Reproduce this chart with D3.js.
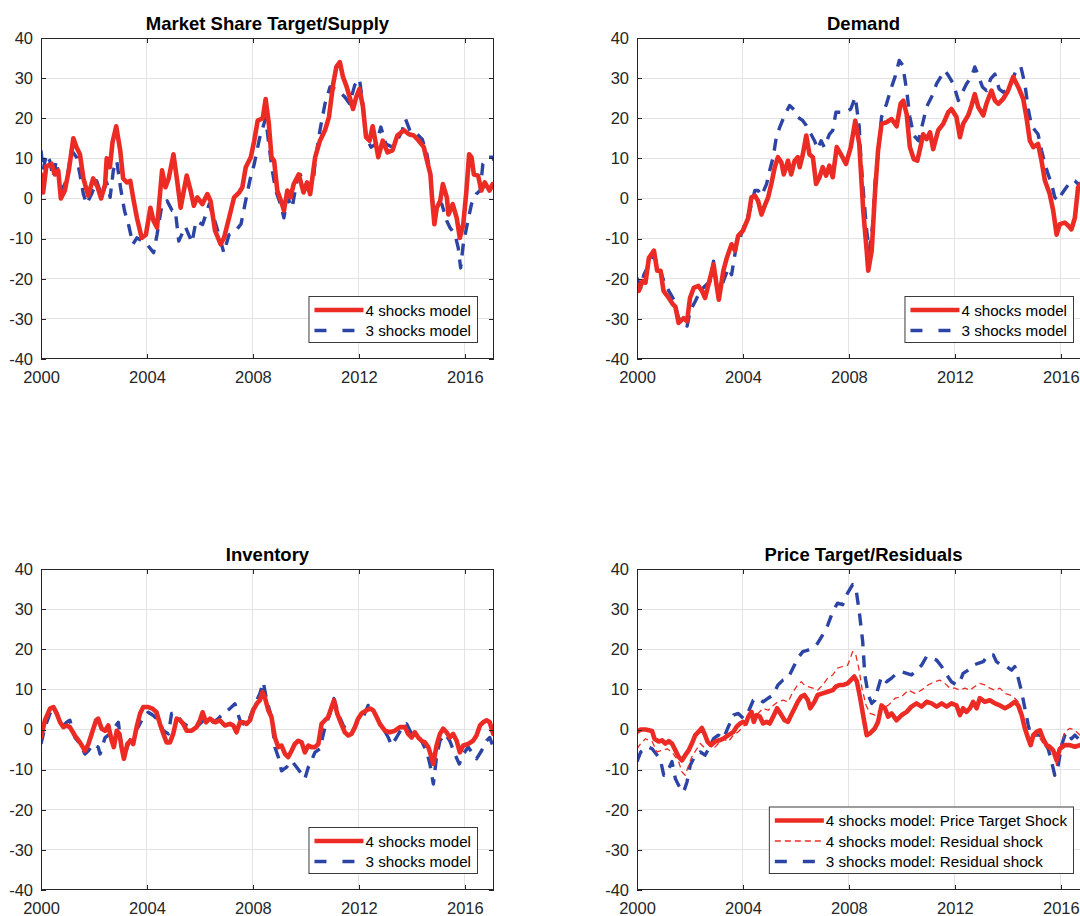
<!DOCTYPE html>
<html>
<head>
<meta charset="utf-8">
<script src="https://cdn.jsdelivr.net/npm/d3@7"></script>
<style>
  html, body { margin: 0; padding: 0; background: #fff; overflow: hidden; }
  svg { display: block; font-family: "Liberation Sans", Arial, Helvetica, sans-serif; }
</style>
</head>
<body>
<svg id="chart" width="1080" height="916"></svg>
<script>
// ---------------- DATA (year, value) ----------------
const xTickValues = [2000, 2004, 2008, 2012, 2016];
const yTickValues = [-40, -30, -20, -10, 0, 10, 20, 30, 40];

const panelTitles = ["Market Share Target/Supply", "Demand", "Inventory", "Price Target/Residuals"];
const legendTwo = ["4 shocks model", "3 shocks model"];
const legendThree = ["4 shocks model: Price Target Shock", "4 shocks model: Residual shock", "3 shocks model: Residual shock"];

const supply4 = [[2000.0,6],[2000.08,1.5],[2000.2,8],[2000.4,8.6],[2000.52,6],[2000.65,7],[2000.75,0],[2000.9,2],[2001.05,7],[2001.22,15],[2001.34,12.8],[2001.47,11],[2001.6,5],[2001.78,0.7],[2001.97,5],[2002.14,2.8],[2002.27,0],[2002.42,3.6],[2002.48,10],[2002.6,7.8],[2002.7,14],[2002.84,18],[2002.99,12],[2003.1,5],[2003.24,4],[2003.37,4.4],[2003.5,-0.6],[2003.62,-4.8],[2003.8,-9.8],[2003.96,-9],[2004.13,-2.3],[2004.25,-5.6],[2004.38,-7.3],[2004.57,7],[2004.7,2.8],[2004.82,5],[2005.0,11],[2005.14,4.4],[2005.27,-2.3],[2005.5,5.7],[2005.65,1.9],[2005.77,-1.8],[2005.9,0.3],[2006.09,-1.4],[2006.28,1.1],[2006.4,-0.6],[2006.57,-8],[2006.78,-11.4],[2006.91,-9.8],[2007.1,-4.8],[2007.29,0.3],[2007.48,1.5],[2007.6,2.8],[2007.73,7.8],[2007.92,10.3],[2008.05,14.4],[2008.18,19.4],[2008.37,20],[2008.48,24.8],[2008.6,18.6],[2008.7,10.3],[2008.8,9.4],[2008.92,2],[2009.1,-1.4],[2009.17,-3],[2009.3,2],[2009.42,0.3],[2009.54,3.6],[2009.73,6],[2009.91,1.5],[2010.04,4],[2010.16,1.1],[2010.35,10.3],[2010.53,14.4],[2010.72,17],[2010.87,20.3],[2011.03,28.6],[2011.15,32.8],[2011.28,34],[2011.4,30.3],[2011.53,28],[2011.65,25.3],[2011.78,22.3],[2011.9,25.3],[2012.02,27.3],[2012.15,23],[2012.27,15.3],[2012.4,14.4],[2012.52,18],[2012.61,14.8],[2012.73,10.3],[2012.9,14.4],[2013.08,11.5],[2013.27,12],[2013.45,15.7],[2013.7,17],[2013.89,16],[2014.07,15.7],[2014.26,14.4],[2014.45,12.8],[2014.57,9.4],[2014.7,6],[2014.76,0.3],[2014.85,-6.4],[2014.94,-2.3],[2015.07,-0.6],[2015.17,3.6],[2015.32,0.3],[2015.38,-4],[2015.54,-1.4],[2015.69,-4.8],[2015.81,-9.8],[2015.94,-6.4],[2016.06,2],[2016.16,11],[2016.25,10.3],[2016.34,6],[2016.5,5.7],[2016.62,2],[2016.75,4],[2016.93,2],[2017.05,3.6],[2017.1,2.8]];

const supply3 = [[2000.0,12],[2000.08,7],[2000.2,11],[2000.33,9.4],[2000.45,5.3],[2000.58,9.4],[2000.67,5.3],[2000.77,2],[2000.9,3.6],[2001.03,7],[2001.15,12],[2001.34,10.3],[2001.47,6],[2001.6,1.1],[2001.72,-1.4],[2001.91,1.1],[2002.1,4.4],[2002.29,0.7],[2002.48,4],[2002.61,0.3],[2002.73,7],[2002.86,9.4],[2003.0,2.8],[2003.15,-3],[2003.3,-6.4],[2003.47,-11.4],[2003.62,-9.8],[2003.81,-10.6],[2004.0,-11.4],[2004.25,-13.5],[2004.38,-9],[2004.57,-1.4],[2004.76,-0.6],[2004.95,-3],[2005.07,-3],[2005.2,-10.6],[2005.45,-7],[2005.7,-11],[2005.85,-5.6],[2006.1,-6.5],[2006.35,-1.4],[2006.6,-6.4],[2006.8,-11],[2006.9,-13.5],[2007.1,-9],[2007.35,-8],[2007.55,-6.4],[2007.7,-1.4],[2007.9,5],[2008.05,8.6],[2008.25,15],[2008.48,20],[2008.6,13.6],[2008.73,7],[2008.86,2],[2009.04,-1.4],[2009.17,-4.8],[2009.3,0.3],[2009.48,-2.3],[2009.66,4.4],[2009.79,6],[2009.95,2.3],[2010.1,3.6],[2010.29,5],[2010.35,9.4],[2010.53,17],[2010.72,23.6],[2010.91,27.8],[2011.1,27.3],[2011.28,26.5],[2011.47,25.3],[2011.65,23.6],[2011.84,28.2],[2012.02,29.8],[2012.15,23.6],[2012.27,15.3],[2012.46,12.8],[2012.65,13.6],[2012.83,17.8],[2013.02,13.6],[2013.27,12.8],[2013.45,14.4],[2013.64,17],[2013.76,19.8],[2013.95,16.5],[2014.2,16],[2014.39,14.8],[2014.57,11],[2014.7,6],[2014.8,-2.3],[2014.94,-1],[2015.13,-1.4],[2015.32,-5.6],[2015.44,-7.3],[2015.63,-9],[2015.75,-12.3],[2015.84,-17.3],[2015.94,-11.4],[2016.09,-6.4],[2016.25,-1.4],[2016.43,1.1],[2016.58,2],[2016.68,8.6],[2016.87,10.3],[2017.05,10.3],[2017.1,9.5]];

const demand4 = [[2000.0,-21.4],[2000.07,-23],[2000.2,-20.6],[2000.32,-21],[2000.45,-14.8],[2000.64,-13],[2000.76,-18],[2000.89,-18],[2001.0,-23],[2001.2,-24.8],[2001.36,-26.4],[2001.45,-27],[2001.57,-31],[2001.76,-29.8],[2001.89,-30.6],[2002.0,-24.8],[2002.14,-22.3],[2002.32,-21.8],[2002.45,-23],[2002.57,-24.8],[2002.7,-21.4],[2002.89,-16.4],[2003.0,-21.4],[2003.09,-25.2],[2003.26,-18],[2003.39,-14.8],[2003.57,-11.4],[2003.7,-13],[2003.82,-9.3],[2004.0,-8],[2004.2,-4.8],[2004.32,0.3],[2004.45,0.7],[2004.57,-0.6],[2004.7,-4],[2004.82,-1.8],[2004.95,0.3],[2005.07,3.6],[2005.2,7.8],[2005.32,10.3],[2005.45,9],[2005.54,6],[2005.7,9.4],[2005.82,6],[2005.95,9.4],[2006.07,10.3],[2006.14,7.8],[2006.26,11],[2006.39,15.7],[2006.51,11],[2006.64,10.3],[2006.76,3.6],[2006.89,5.3],[2007.01,7.8],[2007.14,5.7],[2007.26,8.2],[2007.39,5.3],[2007.54,12.8],[2007.7,11],[2007.89,8.6],[2008.07,12.8],[2008.24,19.4],[2008.39,13.6],[2008.54,-3],[2008.67,-13],[2008.73,-18],[2008.86,-13],[2008.98,1],[2009.1,12],[2009.23,18.6],[2009.42,19],[2009.61,19.8],[2009.8,18],[2009.95,23.6],[2010.05,24.4],[2010.18,21],[2010.3,12.8],[2010.45,9.8],[2010.58,9.4],[2010.7,12.8],[2010.8,16],[2010.93,14.8],[2011.06,16.5],[2011.18,12.3],[2011.37,17],[2011.56,18.6],[2011.75,21.5],[2011.87,22.3],[2012.06,20.3],[2012.19,15.3],[2012.31,18.6],[2012.5,20.7],[2012.63,23.2],[2012.75,26],[2012.88,22.8],[2013.07,20.7],[2013.19,23.6],[2013.38,26.9],[2013.51,24.4],[2013.64,23.6],[2013.82,24.8],[2014.01,26.9],[2014.2,30.3],[2014.39,27.8],[2014.58,24.8],[2014.7,20.3],[2014.83,14.4],[2014.96,12.8],[2015.14,13.6],[2015.27,9.4],[2015.4,4.4],[2015.58,1.1],[2015.71,-3],[2015.84,-9],[2015.96,-6.4],[2016.15,-6],[2016.28,-6.8],[2016.4,-7.7],[2016.53,-4.8],[2016.65,2.8],[2016.8,4],[2017.0,3],[2017.1,4]];

const demand3 = [[2000.0,-19.8],[2000.14,-22.3],[2000.26,-19],[2000.45,-16.4],[2000.64,-14],[2000.76,-16.4],[2000.89,-18],[2001.01,-20.6],[2001.2,-23],[2001.39,-25.2],[2001.57,-29.8],[2001.76,-30.6],[2001.89,-31.8],[2002.01,-28],[2002.2,-25.6],[2002.39,-23],[2002.57,-21.8],[2002.76,-20.6],[2002.89,-15.6],[2003.07,-24.8],[2003.26,-20.6],[2003.45,-17.3],[2003.57,-19],[2003.76,-11.4],[2003.89,-9.8],[2004.07,-6.4],[2004.26,-3],[2004.45,2],[2004.57,2],[2004.7,0.7],[2004.89,3.6],[2005.01,7],[2005.14,10.3],[2005.26,15.3],[2005.39,17.8],[2005.57,20.7],[2005.76,23.2],[2005.95,22],[2006.07,20.3],[2006.26,19.4],[2006.39,18.2],[2006.57,16],[2006.7,14.4],[2006.82,12.3],[2006.95,14.4],[2007.07,12.8],[2007.26,16],[2007.39,17],[2007.51,21.5],[2007.7,21.5],[2007.89,21.5],[2008.07,22.3],[2008.24,25.3],[2008.39,17.8],[2008.45,10],[2008.54,2],[2008.67,-8],[2008.77,-13],[2008.9,-6.4],[2008.98,3.6],[2009.1,11],[2009.23,20.3],[2009.42,23.6],[2009.61,27.8],[2009.74,30.3],[2009.9,34.4],[2010.03,33.2],[2010.18,26.9],[2010.3,20.3],[2010.45,15.7],[2010.62,14.4],[2010.78,18.6],[2010.93,22.8],[2011.12,25.3],[2011.31,28.6],[2011.5,30.7],[2011.62,31.9],[2011.75,30.7],[2011.94,28.6],[2012.13,24.4],[2012.25,26],[2012.44,28.6],[2012.63,30.3],[2012.75,32.8],[2012.88,30.7],[2013.04,27.8],[2013.19,26.9],[2013.35,29.8],[2013.51,31],[2013.67,27.3],[2013.82,26.5],[2013.95,26.9],[2014.14,29],[2014.33,32.3],[2014.49,32.8],[2014.64,28.6],[2014.77,22.3],[2014.89,18.2],[2015.02,17],[2015.14,16],[2015.27,12],[2015.4,8.6],[2015.52,6],[2015.65,3.6],[2015.77,0.3],[2015.9,-0.6],[2016.03,1.1],[2016.21,2.8],[2016.4,4.4],[2016.53,4.4],[2016.65,3.6],[2016.85,4],[2017.1,4]];

const inventory4 = [[2000.0,-2],[2000.15,2.3],[2000.34,5.2],[2000.47,5.6],[2000.59,4],[2000.72,1.8],[2000.84,0.6],[2000.97,1],[2001.09,0.6],[2001.28,-1.5],[2001.47,-3.2],[2001.66,-5.3],[2001.79,-3.6],[2001.95,-0.3],[2002.08,2.3],[2002.16,2.7],[2002.29,0.2],[2002.42,-0.3],[2002.54,1],[2002.67,-2.8],[2002.75,-4.4],[2002.86,-0.3],[2002.96,-1.1],[2003.04,-4.4],[2003.13,-7.3],[2003.26,-3.6],[2003.38,-2.8],[2003.48,-3.6],[2003.61,0.6],[2003.74,4],[2003.86,5.6],[2004.05,5.6],[2004.21,5.2],[2004.36,4.3],[2004.49,1.4],[2004.62,-1.1],[2004.74,-3.2],[2004.87,-3.2],[2004.99,-1.1],[2005.12,2.7],[2005.25,2.3],[2005.37,1.4],[2005.5,-0.3],[2005.69,-0.3],[2005.87,0.6],[2006.0,2.3],[2006.1,4.3],[2006.23,1.8],[2006.38,2.7],[2006.57,1.8],[2006.75,2.3],[2006.94,1],[2007.13,1.4],[2007.26,1],[2007.38,-0.7],[2007.51,1.8],[2007.64,1.8],[2007.76,1.4],[2007.89,2.3],[2008.01,4.8],[2008.14,6.4],[2008.26,7.3],[2008.36,9.3],[2008.45,8],[2008.58,4.8],[2008.7,3.1],[2008.83,-2],[2008.96,-4.4],[2009.08,-4],[2009.21,-6.1],[2009.33,-6.9],[2009.46,-5.3],[2009.58,-3.6],[2009.71,-2.8],[2009.84,-3.2],[2009.96,-5.7],[2010.09,-4],[2010.21,-4.4],[2010.34,-4.4],[2010.47,-3.6],[2010.59,1.4],[2010.72,2.3],[2010.84,3.1],[2010.97,5.6],[2011.06,7.3],[2011.18,4],[2011.31,1.8],[2011.47,-0.7],[2011.6,-1.5],[2011.72,-1.1],[2011.85,0.6],[2011.97,2.7],[2012.1,4],[2012.29,4.8],[2012.42,5.2],[2012.54,4.8],[2012.67,3.1],[2012.79,1.4],[2012.98,-0.3],[2013.17,-0.7],[2013.36,-0.3],[2013.55,0.6],[2013.74,0.6],[2013.86,-1.1],[2013.99,-2],[2014.11,-0.7],[2014.24,-2],[2014.36,-2.8],[2014.49,-3.2],[2014.62,-4.4],[2014.74,-6.9],[2014.81,-8.6],[2014.93,-4],[2015.06,-1.1],[2015.18,0.2],[2015.31,-0.7],[2015.43,-2],[2015.56,-1.1],[2015.69,-2.8],[2015.81,-5.7],[2015.94,-4],[2016.13,-3.6],[2016.31,-2.8],[2016.44,-1.5],[2016.57,1],[2016.69,1.8],[2016.82,2.3],[2016.94,1.8],[2017.07,-1.1]];

const inventory3 = [[2000.0,-3.6],[2000.15,0.6],[2000.34,4],[2000.47,5.6],[2000.59,4.3],[2000.78,0.6],[2000.97,1.8],[2001.09,2.3],[2001.28,-2],[2001.47,-3.6],[2001.66,-6.1],[2001.79,-5.3],[2001.97,-3.6],[2002.16,-4.4],[2002.23,-6.1],[2002.42,-2],[2002.6,-1.1],[2002.79,0.6],[2002.92,1.8],[2003.04,-4.4],[2003.17,-6.1],[2003.3,-3.6],[2003.48,-1.1],[2003.67,0.6],[2003.86,3.1],[2004.05,4.3],[2004.24,3.5],[2004.43,2.3],[2004.62,-0.3],[2004.81,-1.1],[2004.93,4],[2005.12,4],[2005.31,1.8],[2005.5,1],[2005.69,0.6],[2005.87,0.6],[2006.06,1.8],[2006.25,3.1],[2006.5,1.8],[2006.69,2.7],[2006.88,4],[2007.13,5.2],[2007.32,6.4],[2007.51,2.3],[2007.7,1],[2007.89,3.1],[2008.08,6.4],[2008.26,8.9],[2008.39,11.8],[2008.52,7.3],[2008.7,3.1],[2008.83,-4.4],[2008.96,-6.9],[2009.08,-10.3],[2009.27,-9.4],[2009.46,-7.8],[2009.65,-9.4],[2009.84,-11.1],[2009.96,-12.3],[2010.09,-9.4],[2010.21,-7.8],[2010.34,-5.7],[2010.53,-4.8],[2010.72,0.6],[2010.91,4],[2011.06,7.7],[2011.22,4],[2011.41,1],[2011.6,-0.7],[2011.79,-0.3],[2011.97,2.3],[2012.16,3.1],[2012.35,6],[2012.54,4.8],[2012.73,2.3],[2012.92,0.2],[2013.11,-2],[2013.23,-4],[2013.42,-2],[2013.61,0.2],[2013.8,1.4],[2013.99,-1.1],[2014.18,-1.1],[2014.36,-2.8],[2014.55,-5.3],[2014.68,-8.6],[2014.81,-13.6],[2014.93,-6.9],[2015.06,-2.8],[2015.25,-1.1],[2015.43,-2.8],[2015.62,-6.1],[2015.79,-8.6],[2015.94,-6.1],[2016.13,-4.4],[2016.31,-6.1],[2016.44,-7.3],[2016.63,-5.3],[2016.82,-2.8],[2016.94,-2],[2017.07,-4.4]];

const priceTarget4 = [[2000.0,-0.6],[2000.14,0],[2000.32,0],[2000.57,-0.4],[2000.66,-2.3],[2000.82,-3],[2000.95,-2.7],[2001.07,-3.5],[2001.2,-2.9],[2001.32,-3.5],[2001.45,-5.2],[2001.57,-6.8],[2001.7,-7.7],[2001.82,-6.4],[2001.95,-5.2],[2002.07,-3.5],[2002.2,-1.4],[2002.32,-0.6],[2002.45,0.4],[2002.57,-1.4],[2002.66,-3],[2002.79,-3.9],[2002.95,-3],[2003.11,-2.7],[2003.26,-2.3],[2003.45,-1.4],[2003.64,-0.6],[2003.76,0.7],[2003.89,1.5],[2004.01,1.9],[2004.11,1.5],[2004.2,3.2],[2004.32,4.4],[2004.41,1.9],[2004.51,3.6],[2004.64,3.2],[2004.76,1.5],[2004.89,1.9],[2005.01,1.5],[2005.14,3.2],[2005.29,5.3],[2005.45,3.6],[2005.57,2.3],[2005.7,1.9],[2005.82,3.6],[2005.95,5.3],[2006.07,6.9],[2006.2,8.2],[2006.32,8.6],[2006.45,7.3],[2006.54,5.3],[2006.7,6.9],[2006.82,8.6],[2007.01,9],[2007.2,9.4],[2007.39,9.8],[2007.51,10.7],[2007.64,11.1],[2007.79,11.1],[2007.95,11.5],[2008.07,12.3],[2008.2,13.2],[2008.3,12],[2008.42,8],[2008.55,3],[2008.67,-1.4],[2008.79,-1],[2008.98,0.3],[2009.1,1.9],[2009.23,6],[2009.36,5.3],[2009.48,3.2],[2009.61,4],[2009.8,2.3],[2009.99,3.6],[2010.18,4.4],[2010.36,5.7],[2010.55,6.5],[2010.74,5.7],[2010.93,6.9],[2011.12,6.5],[2011.31,5.7],[2011.5,6.5],[2011.69,5.7],[2011.87,6.5],[2012.06,6],[2012.19,3.6],[2012.31,5.3],[2012.44,4.4],[2012.57,5.3],[2012.69,6.9],[2012.82,5.3],[2012.94,7.8],[2013.13,6.9],[2013.32,7.3],[2013.51,6.5],[2013.7,6],[2013.89,5.3],[2014.08,6],[2014.26,6.9],[2014.39,6],[2014.52,3.6],[2014.64,0.3],[2014.77,-2.3],[2014.86,-3.9],[2014.96,-1.4],[2015.08,-0.6],[2015.21,-0.2],[2015.33,-2.3],[2015.46,-3.9],[2015.58,-4.3],[2015.71,-5.2],[2015.84,-7.7],[2015.96,-4.8],[2016.15,-3.9],[2016.34,-3.9],[2016.53,-4.3],[2016.72,-3.9],[2016.9,-4],[2017.1,-4]];

const residual4 = [[2000.0,-4.8],[2000.14,-3.5],[2000.32,-2.3],[2000.45,-2.7],[2000.57,-3],[2000.76,-5.6],[2000.95,-5.2],[2001.14,-4.8],[2001.32,-5.6],[2001.45,-6.8],[2001.57,-8],[2001.7,-10.6],[2001.82,-11.4],[2001.95,-8.9],[2002.07,-6.8],[2002.26,-4.8],[2002.39,-3.5],[2002.51,-4.3],[2002.7,-3.5],[2002.89,-4.8],[2003.07,-3.5],[2003.26,-2.3],[2003.45,-3],[2003.64,-1.4],[2003.82,-0.6],[2004.01,0.7],[2004.2,1.9],[2004.39,1.9],[2004.57,4],[2004.76,5.3],[2004.95,4.8],[2005.14,6],[2005.32,6.9],[2005.51,7.3],[2005.7,6.9],[2005.89,9.4],[2006.07,11.1],[2006.2,11.9],[2006.32,11.1],[2006.45,10.7],[2006.64,10.3],[2006.82,9.8],[2007.01,11.1],[2007.2,12.8],[2007.39,13.6],[2007.57,15.3],[2007.76,15.7],[2007.95,16],[2008.14,19.4],[2008.26,18.6],[2008.38,15],[2008.5,10],[2008.65,6],[2008.8,4],[2008.98,3.6],[2009.23,5.3],[2009.48,6],[2009.74,7.8],[2009.99,8.2],[2010.24,9.8],[2010.49,9],[2010.74,9.8],[2010.99,11.1],[2011.25,11.9],[2011.43,12.3],[2011.62,11.5],[2011.81,10.3],[2012.0,10.3],[2012.19,9.8],[2012.38,10.3],[2012.57,9.8],[2012.75,10.7],[2012.94,11.5],[2013.13,11.1],[2013.32,10.3],[2013.51,9.8],[2013.7,10.3],[2013.89,9],[2014.08,8.6],[2014.26,7.8],[2014.45,6.5],[2014.58,2.8],[2014.7,-1.4],[2014.83,-2.7],[2014.96,-1.8],[2015.14,-1.4],[2015.33,-3.5],[2015.52,-4.8],[2015.71,-6],[2015.84,-8.9],[2015.96,-4.8],[2016.15,-0.6],[2016.34,0.3],[2016.53,-0.2],[2016.72,-1.4],[2016.9,-1],[2017.1,-1]];

const residual3 = [[2000.0,-8],[2000.14,-5.6],[2000.39,-4.3],[2000.57,-4.8],[2000.76,-6.4],[2000.89,-7.7],[2001.01,-11.4],[2001.14,-10.6],[2001.32,-8],[2001.45,-12.3],[2001.57,-13.9],[2001.76,-15.6],[2001.89,-13],[2002.01,-8.9],[2002.2,-6.4],[2002.39,-5.6],[2002.57,-6.4],[2002.7,-4.8],[2002.89,-2.3],[2003.07,-1.4],[2003.26,-2.3],[2003.45,0.7],[2003.64,3.6],[2003.82,4],[2004.01,2.8],[2004.2,4.4],[2004.39,7.3],[2004.57,7.8],[2004.76,6.9],[2004.95,7.8],[2005.14,8.6],[2005.32,11.1],[2005.51,12.3],[2005.7,12.8],[2005.89,15.3],[2006.07,17.8],[2006.26,19.4],[2006.45,19.8],[2006.64,20.3],[2006.82,21.5],[2007.01,23.6],[2007.2,26],[2007.39,29.4],[2007.57,31.5],[2007.76,31.1],[2007.95,34],[2008.14,36.1],[2008.26,35.3],[2008.39,29.4],[2008.52,21.9],[2008.6,13.6],[2008.73,8.6],[2008.86,6.5],[2008.98,7.3],[2009.1,10.3],[2009.23,13.2],[2009.42,11.9],[2009.61,12.8],[2009.8,14],[2009.99,14.4],[2010.18,14],[2010.36,13.6],[2010.55,14.8],[2010.74,16],[2010.93,18.2],[2011.12,17.8],[2011.31,17.3],[2011.5,15.7],[2011.69,13.6],[2011.87,11.9],[2012.06,11.1],[2012.19,11.9],[2012.31,14],[2012.5,14.8],[2012.69,16],[2012.88,16.5],[2013.07,16.9],[2013.26,18.6],[2013.45,18.6],[2013.57,16.9],[2013.76,16],[2013.95,15.7],[2014.14,14.8],[2014.26,15.7],[2014.39,12.8],[2014.52,9.4],[2014.64,5.3],[2014.77,1.1],[2014.89,-2.3],[2015.02,-1.4],[2015.21,-1.4],[2015.4,-3.5],[2015.52,-4.8],[2015.65,-8],[2015.77,-11.4],[2015.9,-8.9],[2016.03,-3.9],[2016.15,-1.4],[2016.28,-0.6],[2016.4,-2.3],[2016.53,-1.4],[2016.72,-2.7],[2016.9,-2],[2017.1,-2]];

// ---------------- STYLES ----------------
const RED = "#ec2b25";
const BLUE = "#2c44a4";
const styleThick = {stroke: RED, width: 4.6, dash: null};
const styleBlue = {stroke: BLUE, width: 3.4, dash: "12,9"};
const styleThin = {stroke: RED, width: 1.3, dash: "6,4"};

const PW = 453, PH = 321;
const panels = [
  {x0: 41,  y0: 38,  title: panelTitles[0], series: [[supply3, styleBlue], [supply4, styleThick]], legend: [[legendTwo[0], styleThick], [legendTwo[1], styleBlue]]},
  {x0: 637, y0: 38,  title: panelTitles[1], series: [[demand3, styleBlue], [demand4, styleThick]], legend: [[legendTwo[0], styleThick], [legendTwo[1], styleBlue]]},
  {x0: 41,  y0: 569, title: panelTitles[2], series: [[inventory3, styleBlue], [inventory4, styleThick]], legend: [[legendTwo[0], styleThick], [legendTwo[1], styleBlue]]},
  {x0: 637, y0: 569, title: panelTitles[3], series: [[residual3, styleBlue], [residual4, styleThin], [priceTarget4, styleThick]], legend: [[legendThree[0], styleThick], [legendThree[1], styleThin], [legendThree[2], styleBlue]]}
];

const svg = d3.select("#chart");
svg.append("rect").attr("width", 1080).attr("height", 916).attr("fill", "#fff");

const AXIS = "#262626";
const GRID = "#e3e3e3";
const FS = 16.5;
const fmt = d => String(d);

panels.forEach((p, i) => {
  const x = d3.scaleLinear().domain([2000, 2017.1]).range([p.x0, p.x0 + PW]);
  const y = d3.scaleLinear().domain([-40, 40]).range([p.y0 + PH, p.y0]);
  const g = svg.append("g");

  // grid
  g.append("g").selectAll("line").data(yTickValues.slice(1, -1)).join("line")
    .attr("x1", p.x0).attr("x2", p.x0 + PW).attr("y1", d => y(d)).attr("y2", d => y(d))
    .attr("stroke", GRID).attr("stroke-width", 1).attr("shape-rendering", "crispEdges");
  g.append("g").selectAll("line").data(xTickValues.slice(1)).join("line")
    .attr("y1", p.y0).attr("y2", p.y0 + PH).attr("x1", d => x(d)).attr("x2", d => x(d))
    .attr("stroke", GRID).attr("stroke-width", 1).attr("shape-rendering", "crispEdges");

  // clip
  const cid = "clip" + i;
  svg.append("clipPath").attr("id", cid).append("rect")
    .attr("x", p.x0).attr("y", p.y0).attr("width", PW).attr("height", PH);

  const line = d3.line().x(d => x(d[0])).y(d => y(d[1]));
  const lg = g.append("g").attr("clip-path", `url(#${cid})`);
  p.series.forEach(([data, st]) => {
    lg.append("path").datum(data).attr("d", line)
      .attr("fill", "none").attr("stroke", st.stroke).attr("stroke-width", st.width)
      .attr("stroke-linejoin", "round").attr("stroke-linecap", st.dash ? "butt" : "round")
      .attr("stroke-dasharray", st.dash);
  });

  // axes
  const styleAxis = sel => {
    sel.selectAll(".domain").remove();
    sel.selectAll(".tick line").attr("stroke", AXIS).attr("shape-rendering", "crispEdges");
    sel.selectAll(".tick text").attr("fill", AXIS).style("font-size", FS + "px")
      .style("font-family", '"Liberation Sans", Arial, sans-serif');
  };
  g.append("g").attr("transform", `translate(0,${p.y0 + PH})`)
    .call(d3.axisBottom(x).tickValues(xTickValues).tickFormat(fmt).tickSize(-5).tickPadding(12))
    .call(styleAxis);
  g.append("g").attr("transform", `translate(0,${p.y0})`)
    .call(d3.axisTop(x).tickValues(xTickValues).tickFormat("").tickSize(-5))
    .call(styleAxis);
  g.append("g").attr("transform", `translate(${p.x0},0)`)
    .call(d3.axisLeft(y).tickValues(yTickValues).tickFormat(fmt).tickSize(-5).tickPadding(8))
    .call(styleAxis);
  g.append("g").attr("transform", `translate(${p.x0 + PW},0)`)
    .call(d3.axisRight(y).tickValues(yTickValues).tickFormat("").tickSize(-5))
    .call(styleAxis);

  // box
  g.append("rect").attr("x", p.x0 + 0.5).attr("y", p.y0 + 0.5).attr("width", PW - 1).attr("height", PH - 1)
    .attr("fill", "none").attr("stroke", AXIS).attr("stroke-width", 1);

  // title
  g.append("text").attr("x", p.x0 + PW / 2).attr("y", p.y0 - 8)
    .attr("text-anchor", "middle").attr("fill", "#000")
    .style("font-size", "18.5px").style("font-weight", "bold").text(p.title);

  // legend
  const lgG = g.append("g");
  const texts = lgG.selectAll("text").data(p.legend).join("text")
    .attr("fill", "#000").style("font-size", "15.2px").attr("dominant-baseline", "central")
    .text(d => d[0]);
  let maxW = 0;
  texts.each(function () { maxW = Math.max(maxW, this.getComputedTextLength()); });
  const rowH = 20.5;
  const boxW = 57 + maxW + 6;
  const boxH = p.legend.length * rowH + 5;
  const bx = p.x0 + PW - 17 - boxW;
  const by = p.y0 + PH - 17 - boxH;
  lgG.insert("rect", "text").attr("x", bx + 0.5).attr("y", by + 0.5).attr("width", boxW).attr("height", boxH)
    .attr("fill", "#fff").attr("stroke", "#3a3a3a").attr("stroke-width", 1);
  texts.attr("x", bx + 57).attr("y", (d, k) => by + 14 + k * rowH);
  p.legend.forEach((d, k) => {
    const st = d[1];
    lgG.append("line").attr("x1", bx + 6).attr("x2", bx + 55)
      .attr("y1", by + 14 + k * rowH).attr("y2", by + 14 + k * rowH)
      .attr("stroke", st.stroke).attr("stroke-width", st.width)
      .attr("stroke-dasharray", st === styleBlue ? "12,16" : st.dash);
  });
});
</script>
</body>
</html>
